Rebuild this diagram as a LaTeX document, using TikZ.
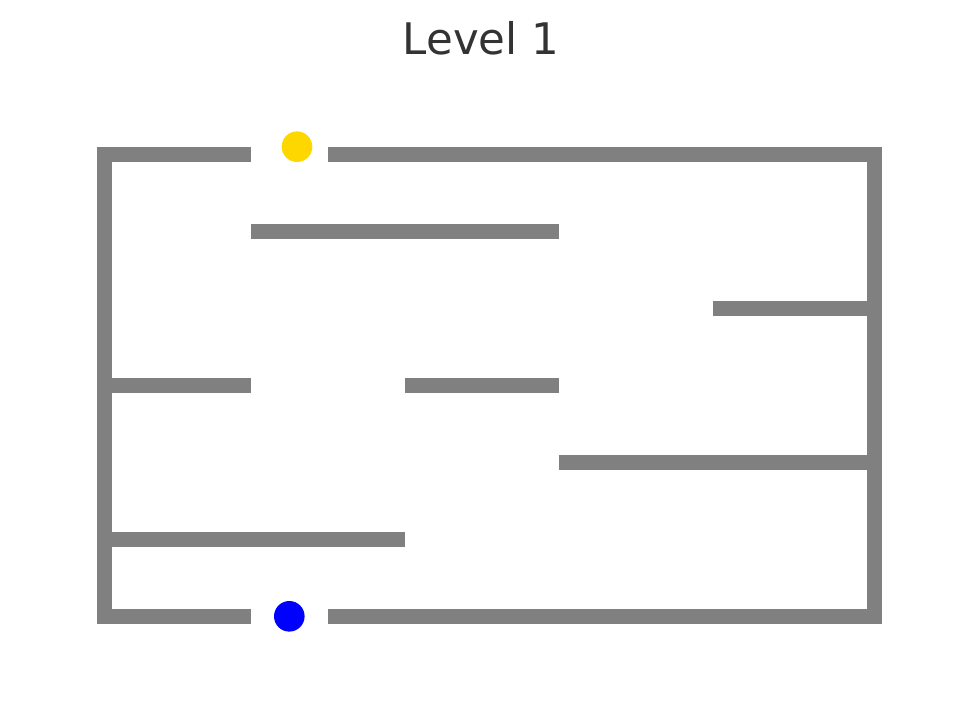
\documentclass[tikz,border=0pt]{standalone}
\usepackage{fontspec}
\setmainfont{DejaVu Sans}
\definecolor{wallgray}{RGB}{128,128,128}
\definecolor{goldc}{RGB}{255,215,0}
\definecolor{titlec}{RGB}{51,51,51}
\tikzset{wall/.style={fill=wallgray,draw=none},
  token/.style={circle,draw=none,minimum size=30.6pt,inner sep=0pt}}
\begin{document}
\begin{tikzpicture}[x=1pt,y=-1pt]
\useasboundingbox[fill=white] (0,0) rectangle (963,706);
\node[anchor=base,text=titlec,font=\fontsize{43.5}{52}\selectfont,inner sep=0pt] (title) at (481,55) {Level 1};
% outer walls
\fill[wall] (97,147) rectangle (251,162);
\fill[wall] (328,147) rectangle (882,162);
\fill[wall] (97,147) rectangle (112,624);
\fill[wall] (867,147) rectangle (882,624);
\fill[wall] (97,609) rectangle (251,624);
\fill[wall] (328,609) rectangle (882,624);
% inner walls
\fill[wall] (251,224) rectangle (559,239);
\fill[wall] (713,301) rectangle (867,316);
\fill[wall] (97,378) rectangle (251,393);
\fill[wall] (405,378) rectangle (559,393);
\fill[wall] (559,455) rectangle (867,470);
\fill[wall] (97,532) rectangle (405,547);
% tokens
\node[token,fill=goldc] (goal) at (297,146.7) {};
\node[token,fill=blue] (player) at (289.3,616.3) {};
\end{tikzpicture}
\end{document}
